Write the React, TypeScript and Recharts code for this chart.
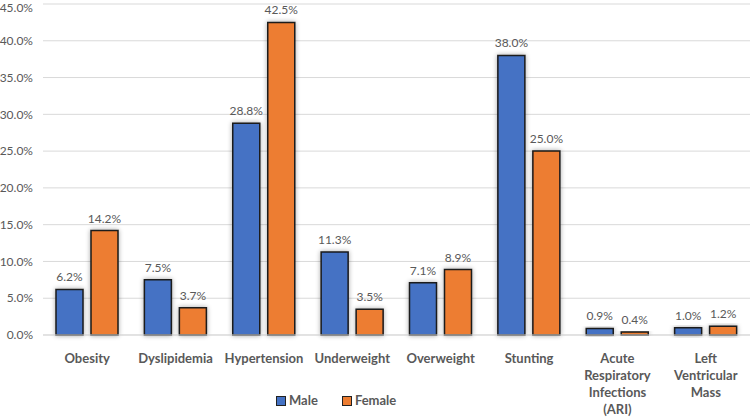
import { BarChart, Bar, XAxis, YAxis, CartesianGrid, LabelList } from 'recharts'

const categories = [
  'Obesity',
  'Dyslipidemia',
  'Hypertension',
  'Underweight',
  'Overweight',
  'Stunting',
  'Acute Respiratory Infections (ARI)',
  'Left Ventricular Mass',
]
const maleValues = [6.2, 7.5, 28.8, 11.3, 7.1, 38.0, 0.9, 1.0]
const femaleValues = [14.2, 3.7, 42.5, 3.5, 8.9, 25.0, 0.4, 1.2]
const yTicks = [0, 5, 10, 15, 20, 25, 30, 35, 40, 45]

const chartData = categories.map((name, i) => ({
  name,
  male: maleValues[i],
  female: femaleValues[i],
}))

const FONT = 'Lato, "Open Sans", sans-serif'
const TEXT = '#595959'

// multi-word categories are stacked one word per line
const CategoryTick = (props: any) => {
  const { x, y, payload } = props
  const lines = String(payload.value).split(' ')
  return (
    <g transform={`translate(${x},${y})`}>
      {lines.map((line: string, i: number) => (
        <text
          key={i}
          x={0}
          y={20 + i * 17}
          textAnchor="middle"
          fill={TEXT}
          fontSize={13}
          fontWeight="bold"
          fontFamily={FONT}
        >
          {line}
        </text>
      ))}
    </g>
  )
}

const legendItems = [
  { label: 'Male', color: '#4472C4' },
  { label: 'Female', color: '#ED7D31' },
]

export default function App() {
  return (
    <div style={{ position: 'absolute', left: 0, top: 0, width: 751, height: 419, background: '#fff' }}>
      <BarChart
        width={751}
        height={419}
        data={chartData}
        margin={{ top: 4, right: 1, left: 0, bottom: 54 }}
        barSize={27}
        barGap={8}
      >
        <defs>
          <filter id="barShadow" x="-30%" y="-30%" width="160%" height="160%">
            <feGaussianBlur in="SourceAlpha" stdDeviation="2.5" />
            <feComponentTransfer>
              <feFuncA type="linear" slope="0.35" />
            </feComponentTransfer>
            <feMerge>
              <feMergeNode />
              <feMergeNode in="SourceGraphic" />
            </feMerge>
          </filter>
        </defs>
        <CartesianGrid vertical={false} stroke="#d9d9d9" strokeWidth={1} />
        <XAxis
          dataKey="name"
          height={30}
          axisLine={{ stroke: '#d9d9d9' }}
          tickLine={false}
          interval={0}
          tick={<CategoryTick />}
        />
        <YAxis
          width={43}
          domain={[0, 45]}
          ticks={yTicks}
          axisLine={false}
          tickLine={false}
          tickMargin={4}
          tickFormatter={(v: number) => `${v.toFixed(1)}%`}
          tick={{ fill: TEXT, fontSize: 12, fontFamily: FONT }}
        />
        <Bar dataKey="male" fill="#4472C4" stroke="#1a1a1a" strokeWidth={1.5} filter="url(#barShadow)" isAnimationActive={false}>
          <LabelList
            dataKey="male"
            position="top"
            offset={8}
            formatter={(v: any) => `${Number(v).toFixed(1)}%`}
            style={{ fill: TEXT, fontSize: 12, fontFamily: FONT }}
          />
        </Bar>
        <Bar dataKey="female" fill="#ED7D31" stroke="#1a1a1a" strokeWidth={1.5} filter="url(#barShadow)" isAnimationActive={false}>
          <LabelList
            dataKey="female"
            position="top"
            offset={8}
            formatter={(v: any) => `${Number(v).toFixed(1)}%`}
            style={{ fill: TEXT, fontSize: 12, fontFamily: FONT }}
          />
        </Bar>
      </BarChart>
      <div
        style={{
          position: 'absolute',
          left: 276,
          top: 392,
          display: 'flex',
          gap: 24,
          fontFamily: FONT,
          fontSize: 13,
          fontWeight: 'bold',
          color: TEXT,
          lineHeight: '17px',
        }}
      >
        {legendItems.map((item) => (
          <div key={item.label} style={{ display: 'flex', alignItems: 'center', gap: 3 }}>
            <span style={{ width: 8, height: 8, background: item.color, border: '1.5px solid #222', display: 'inline-block' }} />
            <span>{item.label}</span>
          </div>
        ))}
      </div>
    </div>
  )
}
